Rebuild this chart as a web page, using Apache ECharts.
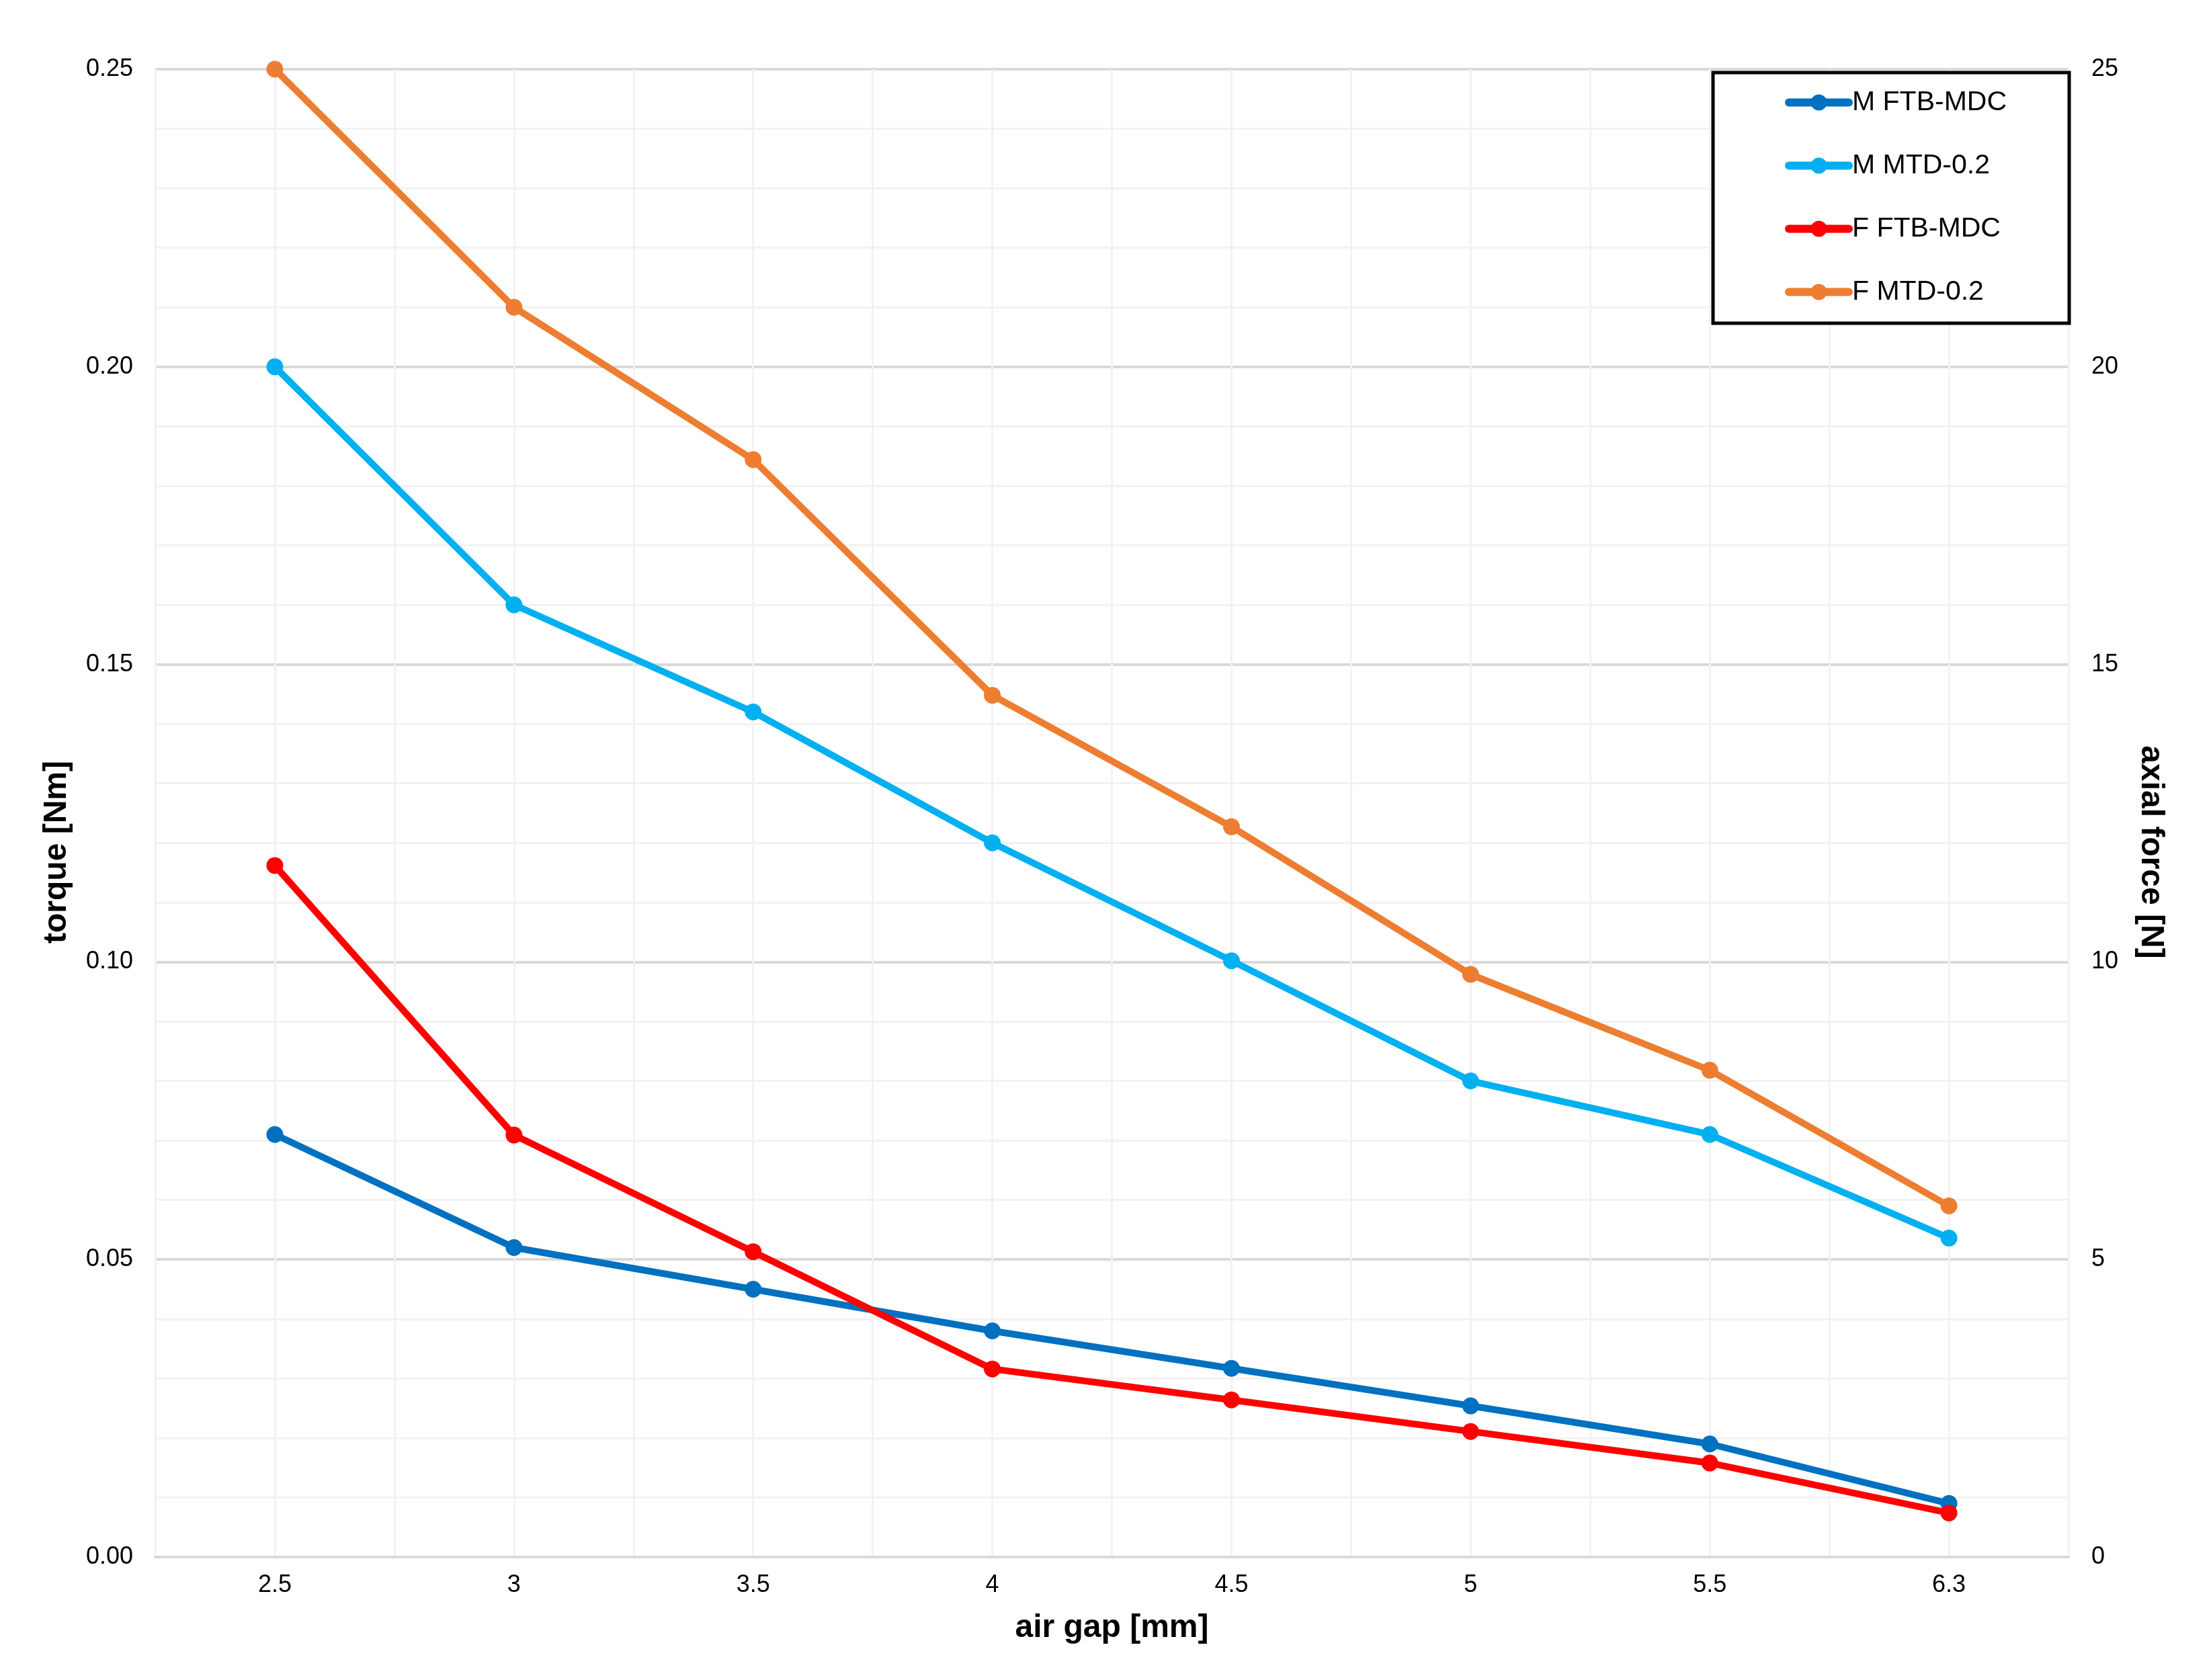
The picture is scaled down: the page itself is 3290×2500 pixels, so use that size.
<!DOCTYPE html>
<html>
<head>
<meta charset="utf-8">
<script src="https://cdn.jsdelivr.net/npm/echarts@6/dist/echarts.min.js"></script>
<style>html,body{margin:0;padding:0;background:#fff;}#chart{width:3290px;height:2500px;}</style>
</head>
<body>
<div id="chart"></div>
<script>
const categories = ['2.5', '3', '3.5', '4', '4.5', '5', '5.5', '6.3'];
const mFtbMdc = [0.071, 0.052, 0.045, 0.038, 0.0317, 0.0254, 0.019, 0.009];
const mMtd02 = [0.200, 0.160, 0.142, 0.120, 0.1002, 0.080, 0.071, 0.0536];
const fFtbMdc = [11.62, 7.09, 5.13, 3.16, 2.64, 2.11, 1.58, 0.74];
const fMtd02 = [25.0, 21.0, 18.44, 14.48, 12.27, 9.79, 8.18, 5.9];
const seriesNames = ['M FTB-MDC', 'M MTD-0.2', 'F FTB-MDC', 'F MTD-0.2'];

const FONT = 'Liberation Sans';
const chart = echarts.init(document.getElementById('chart'));

function lineSeries(name, data, color, yIdx) {
  return {
    name: name, type: 'line', data: data, xAxisIndex: 0, yAxisIndex: yIdx,
    symbol: 'circle', symbolSize: 25,
    lineStyle: { color: color, width: 10 },
    itemStyle: { color: color },
    emphasis: { disabled: true },
    animation: false
  };
}

chart.setOption({
  animation: false,
  backgroundColor: '#fff',
  grid: { left: 231, right: 212, top: 103, bottom: 183, containLabel: false },
  legend: {
    orient: 'vertical',
    left: 2549, top: 108,
    padding: [24, 93, 26, 107],
    itemGap: 53,
    itemWidth: 89, itemHeight: 30,
    borderColor: '#000', borderWidth: 5,
    backgroundColor: '#fff',
    lineStyle: { width: 12, cap: 'round' },
    data: seriesNames,
    textStyle: { fontFamily: FONT, fontSize: 41, color: '#000', lineHeight: 41, padding: [0, 0, 0, 0] }
  },
  xAxis: [{
    type: 'category', data: categories, boundaryGap: true,
    name: 'air gap [mm]', nameLocation: 'middle', nameGap: 82,
    nameTextStyle: { fontFamily: FONT, fontSize: 48, fontWeight: 'bold', color: '#000' },
    axisLine: { show: true, lineStyle: { color: '#d9d9d9', width: 4 } },
    axisTick: { show: false },
    axisLabel: { fontFamily: FONT, fontSize: 36, color: '#000', margin: 24 },
    splitLine: { show: false }
  }, {
    type: 'value', min: 0, max: 16, interval: 1, position: 'top',
    axisLine: { show: false }, axisTick: { show: false }, axisLabel: { show: false },
    splitLine: { show: true, lineStyle: { color: '#f2f2f2', width: 3 } }
  }],
  yAxis: [{
    type: 'value', min: 0, max: 0.25, interval: 0.05, position: 'left',
    name: 'torque [Nm]', nameLocation: 'middle', nameGap: 122, nameRotate: 90,
    nameTextStyle: { fontFamily: FONT, fontSize: 48, fontWeight: 'bold', color: '#000', padding: [0, 116, 0, 0] },
    axisLine: { show: false }, axisTick: { show: false },
    axisLabel: { fontFamily: FONT, fontSize: 36, color: '#000', margin: 33, formatter: v => v.toFixed(2) },
    splitLine: { show: true, lineStyle: { color: '#d9d9d9', width: 4 } },
    minorTick: { show: false, splitNumber: 5 },
    minorSplitLine: { show: true, lineStyle: { color: '#f2f2f2', width: 3 } }
  }, {
    type: 'value', min: 0, max: 25, interval: 5, position: 'right',
    name: 'axial force [N]', nameLocation: 'middle', nameGap: 98, nameRotate: -90,
    nameTextStyle: { fontFamily: FONT, fontSize: 48, fontWeight: 'bold', color: '#000', padding: [0, 0, 0, 116] },
    axisLine: { show: false }, axisTick: { show: false },
    axisLabel: { fontFamily: FONT, fontSize: 36, color: '#000', margin: 34 },
    splitLine: { show: false }
  }],
  series: [
    lineSeries(seriesNames[0], mFtbMdc, '#0070c0', 0),
    lineSeries(seriesNames[1], mMtd02, '#00b0f0', 0),
    lineSeries(seriesNames[2], fFtbMdc, '#ff0000', 1),
    lineSeries(seriesNames[3], fMtd02, '#ed7d31', 1)
  ]
});
</script>
</body>
</html>
